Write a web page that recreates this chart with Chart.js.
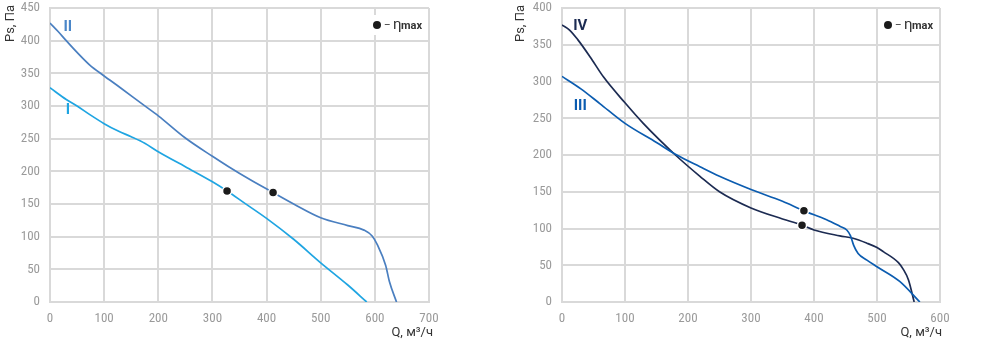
<!DOCTYPE html>
<html>
<head>
<meta charset="utf-8">
<script src="https://cdn.jsdelivr.net/npm/chart.js@4"></script>
<style>
    html, body { margin: 0; padding: 0; background: #fff; }
    body { width: 1000px; height: 345px; position: relative; overflow: hidden; }
    .box { position: absolute; top: 0; height: 345px; }
    #leftBox { left: 0; width: 445px; }
    #rightBox { left: 500px; width: 460px; }
</style>
</head>
<body>
<div class="box" id="leftBox"><canvas id="chartLeft"></canvas></div>
<div class="box" id="rightBox"><canvas id="chartRight"></canvas></div>
<script>
// Fan curves, Q (м³/ч) against Ps (Па)
const qI   = [0, 30, 50, 75, 100, 125, 150, 175, 200, 250, 300, 327, 360, 400, 450, 500, 550, 585];
const psI  = [328, 310, 300, 286, 273, 262, 253, 243, 230, 207, 184, 170, 151, 128, 96, 60, 26, 0];

const qII  = [0, 15, 30, 50, 73, 100, 130, 172, 200, 250, 300, 330, 370, 412, 450, 500, 550, 580, 595, 605, 620, 627, 640];
const psII = [427, 414, 400, 382, 363, 346, 328, 302, 285, 251, 223, 207, 187, 167.5, 150, 129, 117, 110, 101, 87, 56, 31, 0];

const qIII  = [0, 30, 60, 100, 150, 180, 219, 250, 300, 350, 384, 420, 441, 452, 458, 463, 470, 484, 500, 536, 568];
const psIII = [307, 290, 270, 243, 217, 201, 184, 171, 153, 137, 124, 112, 103, 98, 90, 77, 66, 57, 48, 28, 0];

const qIV  = [0, 12, 25, 45, 66, 100, 129, 180, 219, 250, 300, 350, 381, 400, 441, 462, 484, 500, 510, 534, 542, 550, 559];
const psIV = [377, 370, 357, 333, 306, 271, 243, 200, 171, 150, 128, 113, 104.5, 98, 90, 86.7, 80, 74, 68.5, 53.5, 44, 30, 0];

// points of maximum efficiency
const etaQLeft  = [327, 412];
const etaPsLeft = [170, 167.5];
const etaQRight  = [384, 381];
const etaPsRight = [124, 104.5];

const xTicksLeft = [0, 100, 200, 300, 400, 500, 600, 700];
const yTicksLeft = [0, 50, 100, 150, 200, 250, 300, 350, 400, 450];
const xTicksRight = [0, 100, 200, 300, 400, 500, 600];
const yTicksRight = [0, 50, 100, 150, 200, 250, 300, 350, 400];

const curveNamesLeft  = ['I', 'II'];
const curveNamesRight = ['III', 'IV'];

const GRID = '#d9d9d9';
const TICK = '#9a9a9a';
const TEXT = '#333333';
const TICK_FONT = "'Liberation Sans Narrow', 'Roboto Condensed', Roboto, sans-serif";
const LABEL_FONT = "Roboto, 'Open Sans', sans-serif";

function toPoints(xs, ys) {
    return xs.map((x, i) => ({ x: x, y: ys[i] }));
}

function curve(xs, ys, color) {
    return {
        data: toPoints(xs, ys),
        showLine: true,
        borderColor: color,
        borderWidth: 1.7,
        pointRadius: 0,
        cubicInterpolationMode: 'monotone',
        fill: false
    };
}

// axis titles, curve names and the η legend
const decorations = {
    id: 'decorations',
    afterDraw(chart, args, opts) {
        const ctx = chart.ctx;
        const area = chart.chartArea;
        const xs = chart.scales.x, ys = chart.scales.y;
        ctx.save();

        // y title, rotated, at the top
        ctx.translate(opts.yTitleX, area.top - 3);
        ctx.rotate(-Math.PI / 2);
        ctx.font = '13px ' + LABEL_FONT;
        ctx.fillStyle = TEXT;
        ctx.textAlign = 'right';
        ctx.textBaseline = 'middle';
        ctx.fillText('Ps, Па', 0, 0);
        ctx.setTransform(1, 0, 0, 1, 0, 0);

        // x title, under the right end of the axis
        ctx.textAlign = 'right';
        ctx.textBaseline = 'middle';
        ctx.fillText('Q, м³/ч', area.right + opts.xTitleShift, area.bottom + 31);

        // curve names
        ctx.font = 'bold 15px ' + LABEL_FONT;
        ctx.textAlign = 'center';
        opts.names.forEach((n) => {
            ctx.fillStyle = n.color;
            ctx.fillText(n.text, xs.getPixelForValue(n.x), ys.getPixelForValue(n.y));
        });

        // legend with white backing
        const lx = area.right - 52, ly = area.top + 17;
        ctx.fillStyle = '#ffffff';
        ctx.fillRect(lx - 10, ly - 10, 60, 20);
        ctx.beginPath();
        ctx.arc(lx, ly, 4, 0, Math.PI * 2);
        ctx.fillStyle = '#1b1b1b';
        ctx.fill();
        ctx.fillStyle = TEXT;
        ctx.textAlign = 'left';
        ctx.textBaseline = 'alphabetic';
        ctx.font = '10px ' + LABEL_FONT;
        ctx.fillText('–', lx + 7, ly + 3);
        ctx.font = '15px ' + LABEL_FONT;
        ctx.fillText('η', lx + 16, ly + 4);
        ctx.font = 'bold 11px ' + LABEL_FONT;
        ctx.fillText('max', lx + 24, ly + 4);
        ctx.restore();
    }
};

function makeChart(id, cfg) {
    return new Chart(document.getElementById(id), {
        type: 'scatter',
        data: {
            datasets: [
                {
                    data: toPoints(cfg.etaQ, cfg.etaPs),
                    pointRadius: 4.5,
                    pointHoverRadius: 4.5,
                    pointBackgroundColor: '#1b1b1b',
                    pointBorderColor: '#ffffff',
                    pointBorderWidth: 1.5,
                    showLine: false
                },
                ...cfg.curves
            ]
        },
        options: {
            responsive: true,
            maintainAspectRatio: false,
            animation: false,
            layout: { padding: { top: 8, right: cfg.padRight, left: 0, bottom: 0 } },
            plugins: {
                legend: { display: false },
                tooltip: { enabled: false },
                decorations: cfg.deco
            },
            scales: {
                x: {
                    type: 'linear',
                    min: 0,
                    max: cfg.xTicks[cfg.xTicks.length - 1],
                    afterBuildTicks: (s) => { s.ticks = cfg.xTicks.map(v => ({ value: v })); },
                    afterFit: (s) => {
                        s.height = 43;
                        s.paddingLeft = 0;
                        s.paddingRight = 0;
                    },
                    grid: { color: GRID, lineWidth: 2, drawTicks: false },
                    border: { color: GRID, width: 2 },
                    ticks: {
                        color: TICK,
                        padding: 9,
                        maxRotation: 0,
                        font: { family: TICK_FONT, size: 13 }
                    }
                },
                y: {
                    type: 'linear',
                    min: 0,
                    max: cfg.yTicks[cfg.yTicks.length - 1],
                    afterBuildTicks: (s) => { s.ticks = cfg.yTicks.map(v => ({ value: v })); },
                    afterFit: (s) => {
                        s.width = cfg.yWidth;
                        s.paddingTop = 0;
                        s.paddingBottom = 0;
                    },
                    grid: { color: GRID, lineWidth: 2, drawTicks: false },
                    border: { color: GRID, width: 2 },
                    ticks: {
                        color: TICK,
                        padding: 10,
                        font: { family: TICK_FONT, size: 13 }
                    }
                }
            }
        },
        plugins: [decorations]
    });
}

makeChart('chartLeft', {
    etaQ: etaQLeft, etaPs: etaPsLeft,
    curves: [curve(qI, psI, '#1fa5e2'), curve(qII, psII, '#4a7fc0')],
    xTicks: xTicksLeft, yTicks: yTicksLeft,
    yWidth: 50, padRight: 16,
    deco: {
        yTitleX: 11, xTitleShift: 4,
        names: [
            { text: curveNamesLeft[0], x: 33, y: 293, color: '#1fa5e2' },
            { text: curveNamesLeft[1], x: 33, y: 420, color: '#4a86c8' }
        ]
    }
});

makeChart('chartRight', {
    etaQ: etaQRight, etaPs: etaPsRight,
    curves: [curve(qIII, psIII, '#0b5cb0'), curve(qIV, psIV, '#1c2b52')],
    xTicks: xTicksRight, yTicks: yTicksRight,
    yWidth: 62, padRight: 20,
    deco: {
        yTitleX: 21, xTitleShift: 2,
        names: [
            { text: curveNamesRight[0], x: 29, y: 266, color: '#0b5cb0' },
            { text: curveNamesRight[1], x: 29, y: 375, color: '#1c2b52' }
        ]
    }
});
</script>
</body>
</html>
